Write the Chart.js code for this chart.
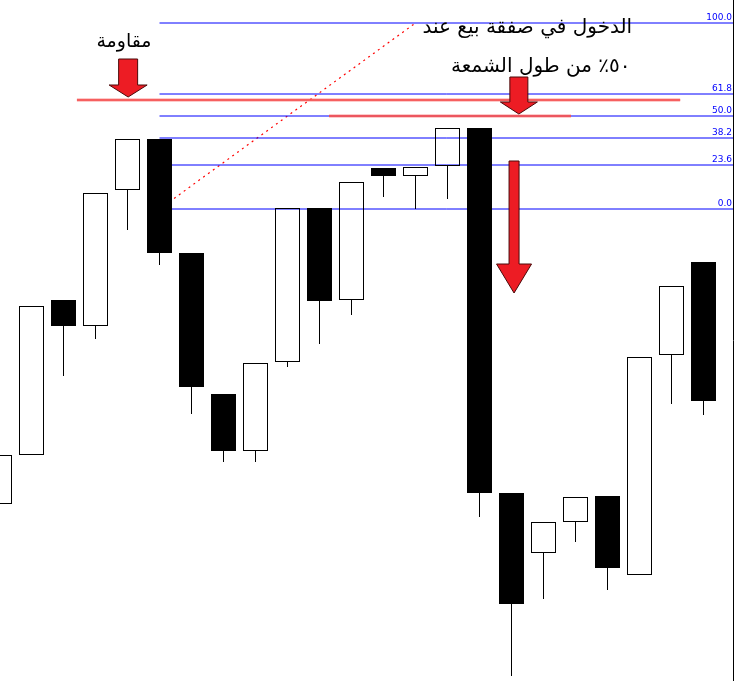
<!DOCTYPE html>
<html>
<head>
<meta charset="utf-8">
<script src="https://cdn.jsdelivr.net/npm/chart.js@4.4.0/dist/chart.umd.min.js"></script>
<style>
  html, body { margin: 0; padding: 0; background: #ffffff; overflow: hidden; }
  canvas { display: block; }
</style>
</head>
<body>
<canvas id="myChart" width="734" height="681"></canvas>
<script>

// candles (index 0 is cut by the left edge)
var candleOpen  = [177, 226, 381, 355, 491, 542, 428, 287, 230, 319, 473, 381, 513, 505, 515, 553, 188, 128, 159, 185, 106, 326, 419];
var candleHigh  = [226, 404, 437, 511, 581, 576, 485, 379, 338, 533, 521, 564, 596, 658, 571, 601, 236, 218, 284, 281, 380, 460, 466];
var candleLow   = [177, 226, 305, 342, 451, 416, 267, 219, 219, 314, 337, 366, 484, 472, 482, 164,   5,  82, 139,  91, 106, 277, 266];
var candleClose = [226, 375, 355, 488, 542, 428, 294, 230, 318, 473, 380, 499, 505, 514, 553, 188,  77, 159, 184, 113, 324, 395, 280];

// fibonacci drawn from candle 5 (low) to candle 13 (high)
var fibFrom = [5, 472];
var fibTo = [13, 658];
var fibLevels = [0, 23.6, 38.2, 50, 61.8, 100];
var fibLabels = ['0.0', '23.6', '38.2', '50.0', '61.8', '100.0'];

// red horizontal lines
var redPrice = [581, 565];
var redStart = [2.42, 10.3];
var redEnd = [21.27, 17.86];

// notes
var noteText = ['مقاومة', 'الدخول في صفقة بيع عند', '٥٠٪ من طول الشمعة'];

var xMin = 0.5 / 32;
var xMax = xMin + 734 / 32;

function fibPrice(level) {
    // snap to whole units like the terminal does
    return Math.round(fibFrom[1] + (fibTo[1] - fibFrom[1]) * level / 100);
}

var bodies = [], upperWicks = [], lowerWicks = [], bodyColors = [];
for (var i = 0; i < candleOpen.length; i++) {
    var top = Math.max(candleOpen[i], candleClose[i]);
    var bottom = Math.min(candleOpen[i], candleClose[i]);
    bodies.push({ x: i, y: [candleOpen[i], candleClose[i]] });
    upperWicks.push({ x: i, y: [top, candleHigh[i]] });
    lowerWicks.push({ x: i, y: [candleLow[i], bottom] });
    bodyColors.push(candleClose[i] > candleOpen[i] ? 'rgba(255,255,255,0)' : '#000000');
}

var datasets = [];

for (var k = 0; k < fibLevels.length; k++) {
    datasets.push({
        type: 'line',
        data: [{ x: fibFrom[0], y: fibPrice(fibLevels[k]) }, { x: xMax, y: fibPrice(fibLevels[k]) }],
        borderColor: '#0000ff',
        borderWidth: 1,
        pointRadius: 0,
        order: 4
    });
}

datasets.push({
    type: 'line',
    data: [{ x: fibFrom[0], y: fibFrom[1] }, { x: fibTo[0], y: fibTo[1] }],
    borderColor: '#ff0000',
    borderWidth: 1.2,
    borderDash: [2, 4],
    pointRadius: 0,
    order: 4
});

datasets.push({
    type: 'bar', data: upperWicks, backgroundColor: '#000000', borderWidth: 0,
    barThickness: 1, grouped: false, inflateAmount: 0, order: 2
});
datasets.push({
    type: 'bar', data: lowerWicks, backgroundColor: '#000000', borderWidth: 0,
    barThickness: 1, grouped: false, inflateAmount: 0, order: 2
});
datasets.push({
    type: 'bar', data: bodies, backgroundColor: bodyColors, borderColor: '#000000',
    borderWidth: 1, borderSkipped: false, barThickness: 25, grouped: false,
    inflateAmount: 0, order: 1
});

for (var r = 0; r < redPrice.length; r++) {
    // soft halo then the red core
    datasets.push({
        type: 'line',
        data: [{ x: redStart[r], y: redPrice[r] }, { x: redEnd[r], y: redPrice[r] }],
        borderColor: 'rgba(250,110,110,0.7)',
        borderWidth: 3,
        pointRadius: 0,
        order: 0
    });
    datasets.push({
        type: 'line',
        data: [{ x: redStart[r], y: redPrice[r] }, { x: redEnd[r], y: redPrice[r] }],
        borderColor: '#e80000',
        borderWidth: 1.5,
        pointRadius: 0,
        order: 0
    });
}

// arrows: x index, top, neck, tip (price units), shaft and head half width (px)
var arrows = [
    { x: 4.02, top: 622, neck: 596, tip: 584, shaft: 9.5, head: 19 },
    { x: 16.23, top: 604, neck: 579, tip: 567, shaft: 9, head: 18.5 },
    { x: 16.08, top: 520, neck: 417, tip: 388, shaft: 5, head: 17.5 }
];

// text spots: x index, price of baseline
var notes = [
    { x: 3.89, y: 634, size: 19, align: 'center' },
    { x: 19.77, y: 648, size: 20, align: 'right' },
    { x: 19.72, y: 609, size: 20, align: 'right' }
];

var overlay = {
    id: 'overlay',
    afterDatasetsDraw: function(chart) {
        var ctx = chart.ctx;
        var xs = chart.scales.x;
        var ys = chart.scales.y;
        ctx.save();

        // level labels
        ctx.font = '9px "DejaVu Sans"';
        ctx.fillStyle = '#0000ff';
        ctx.textAlign = 'right';
        ctx.textBaseline = 'bottom';
        for (var k = 0; k < fibLevels.length; k++) {
            var py = Math.round(ys.getPixelForValue(fibPrice(fibLevels[k])));
            ctx.fillText(fibLabels[k], chart.chartArea.right - 2, py - 1);
        }

        // arrows
        for (var a = 0; a < arrows.length; a++) {
            var ar = arrows[a];
            var cx = xs.getPixelForValue(ar.x);
            var t = ys.getPixelForValue(ar.top);
            var n = ys.getPixelForValue(ar.neck);
            var p = ys.getPixelForValue(ar.tip);
            ctx.beginPath();
            ctx.moveTo(cx - ar.shaft, t);
            ctx.lineTo(cx + ar.shaft, t);
            ctx.lineTo(cx + ar.shaft, n);
            ctx.lineTo(cx + ar.head, n);
            ctx.lineTo(cx, p);
            ctx.lineTo(cx - ar.head, n);
            ctx.lineTo(cx - ar.shaft, n);
            ctx.closePath();
            ctx.fillStyle = '#ed1c24';
            ctx.fill();
            ctx.strokeStyle = '#4a0a0a';
            ctx.lineWidth = 1;
            ctx.stroke();
        }

        // arabic notes
        ctx.fillStyle = '#000000';
        ctx.direction = 'rtl';
        ctx.textBaseline = 'alphabetic';
        for (var j = 0; j < notes.length; j++) {
            ctx.font = notes[j].size + 'px "DejaVu Sans"';
            ctx.textAlign = notes[j].align;
            ctx.fillText(noteText[j], xs.getPixelForValue(notes[j].x), ys.getPixelForValue(notes[j].y));
        }

        // right frame edge
        ctx.beginPath();
        ctx.moveTo(chart.chartArea.right - 0.5, 0);
        ctx.lineTo(chart.chartArea.right - 0.5, chart.chartArea.bottom);
        ctx.strokeStyle = '#000000';
        ctx.stroke();

        ctx.restore();
    }
};

var ctx = document.getElementById('myChart').getContext('2d');
var chart = new Chart(ctx, {
    type: 'bar',
    data: { datasets: datasets },
    options: {
        responsive: false,
        animation: false,
        layout: { padding: 0 },
        plugins: { legend: { display: false }, tooltip: { enabled: false } },
        scales: {
            x: { type: 'linear', min: xMin, max: xMax, offset: false, display: false },
            y: { type: 'linear', min: 0, max: 681, display: false }
        }
    },
    plugins: [overlay]
});
</script>
</body>
</html>
